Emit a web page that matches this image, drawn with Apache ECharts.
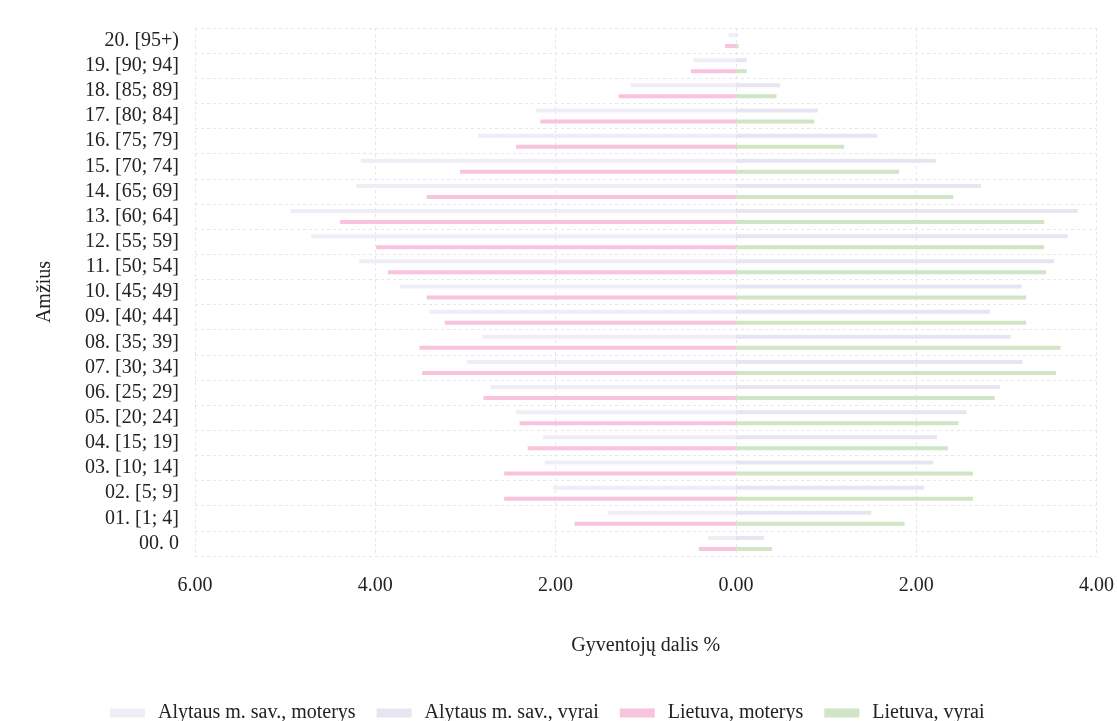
<!DOCTYPE html>
<html>
<head>
<meta charset="utf-8">
<script src="https://cdn.jsdelivr.net/npm/echarts@6/dist/echarts.min.js"></script>
<style>
html,body{margin:0;padding:0;background:#fff;}
#chart{width:1117px;height:721px;}
</style>
</head>
<body>
<div id="chart"></div>
<script>
// Categories from bottom (youngest) to top (oldest)
var categories = ['00. 0','01. [1; 4]','02. [5; 9]','03. [10; 14]','04. [15; 19]','05. [20; 24]','06. [25; 29]','07. [30; 34]','08. [35; 39]','09. [40; 44]','10. [45; 49]','11. [50; 54]','12. [55; 59]','13. [60; 64]','14. [65; 69]','15. [70; 74]','16. [75; 79]','17. [80; 84]','18. [85; 89]','19. [90; 94]','20. [95+)'];
var seriesNames = ['Alytaus m. sav., moterys','Alytaus m. sav., vyrai','Lietuva, moterys','Lietuva, vyrai'];
// Shares of population, % (women drawn to the left)
var alytusMoterys = [0.31,1.42,2.03,2.12,2.14,2.44,2.72,2.98,2.82,3.40,3.73,4.18,4.71,4.94,4.21,4.16,2.86,2.22,1.17,0.47,0.08];
var alytusVyrai   = [0.31,1.50,2.09,2.19,2.23,2.56,2.93,3.18,3.05,2.82,3.17,3.53,3.68,3.79,2.72,2.22,1.57,0.91,0.49,0.12,0.02];
var lietuvaMoterys= [0.41,1.79,2.57,2.57,2.31,2.40,2.80,3.48,3.51,3.23,3.43,3.86,3.99,4.39,3.43,3.06,2.44,2.17,1.30,0.50,0.12];
var lietuvaVyrai  = [0.40,1.87,2.63,2.63,2.35,2.47,2.87,3.55,3.60,3.22,3.22,3.44,3.42,3.42,2.41,1.81,1.20,0.87,0.45,0.12,0.03];
var xTicks = [-6,-4,-2,0,2,4];

var colors = ['#efeef6','#e6e5f1','#f7c3dd','#cfe5c5'];
var font = 'Liberation Serif';
function neg(a){return a.map(function(v){return -v;});}

var chart = echarts.init(document.getElementById('chart'));
chart.setOption({
  animation:false,
  color: colors,
  textStyle:{fontFamily:font},
  grid:{left:195,right:20,top:28,bottom:165,containLabel:false},
  legend:{
    data: seriesNames,
    left:110, top:703, padding:0,
    itemWidth:35, itemHeight:9, itemGap:21,
    icon:'rect',
    textStyle:{fontFamily:font,fontSize:20,color:'#222',padding:[0,0,0,8]}
  },
  xAxis:{
    type:'value', min:xTicks[0], max:xTicks[xTicks.length-1], interval:2,
    name:'Gyventojų dalis %', nameLocation:'middle', nameGap:80,
    nameTextStyle:{fontFamily:font,fontSize:20,color:'#222'},
    axisLine:{show:false}, axisTick:{show:false},
    axisLabel:{fontFamily:font,fontSize:20,color:'#222',margin:20,
      formatter:function(v){return Math.abs(v).toFixed(2);}},
    splitLine:{show:true,lineStyle:{color:'#e6e6e6',type:[3,3],width:1}}
  },
  yAxis:{
    type:'category', data:categories,
    name:'Amžius', nameLocation:'middle', nameGap:140, nameRotate:90,
    nameTextStyle:{fontFamily:font,fontSize:20,color:'#222'},
    axisLine:{show:false,onZero:false}, axisTick:{show:false},
    axisLabel:{fontFamily:font,fontSize:20,color:'#222',margin:16,interval:0},
    splitLine:{show:true,interval:0,lineStyle:{color:'#e6e6e6',type:[3,3],width:1}}
  },
  series:[
    {name:seriesNames[0],type:'bar',stack:'A',data:neg(alytusMoterys),barWidth:4,barGap:'175%',itemStyle:{color:colors[0]}},
    {name:seriesNames[1],type:'bar',stack:'A',data:alytusVyrai,barWidth:4,barGap:'175%',itemStyle:{color:colors[1]}},
    {name:seriesNames[2],type:'bar',stack:'L',data:neg(lietuvaMoterys),barWidth:4,barGap:'175%',itemStyle:{color:colors[2]}},
    {name:seriesNames[3],type:'bar',stack:'L',data:lietuvaVyrai,barWidth:4,barGap:'175%',itemStyle:{color:colors[3]}}
  ]
});
</script>
</body>
</html>
